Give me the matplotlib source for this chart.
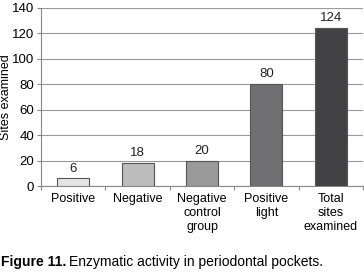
import matplotlib.pyplot as plt
import numpy as np

plt.rcParams["font.family"] = ["Liberation Sans", "DejaVu Sans"]

categories = ["Positive", "Negative", "Negative\ncontrol\ngroup", "Positive\nlight", "Total\nsites\nexamined"]
sites = [6, 18, 20, 80, 124]
bar_colors = ["#e4e4e4", "#bcbcbc", "#9a9a9a", "#6f6f72", "#424245"]

fig = plt.figure(figsize=(3.64, 2.74), dpi=100)
ax = fig.add_axes([0.113, 0.321, 0.884, 0.650])

x = np.arange(len(categories))
ax.bar(x, sites, width=0.5, color=bar_colors, edgecolor="#555555", linewidth=0.8, zorder=3)
for xi, v in zip(x, sites):
    ax.text(xi, v + 3, str(v), ha="center", va="bottom", fontsize=9.5, color="#222222")

ax.set_xlim(-0.5, len(categories) - 0.5)
ax.set_ylim(0, 140)
ax.set_yticks(range(0, 141, 20))
ax.yaxis.grid(True, color="#999999", linewidth=0.8, zorder=0)
ax.tick_params(axis="y", labelsize=9.5, length=3, color="#888888", pad=2)

ax.set_xticks(np.arange(-0.5, len(categories), 1.0))
ax.set_xticklabels([])
ax.set_xticks(x, minor=True)
ax.set_xticklabels(categories, minor=True, fontsize=9, linespacing=1.25)
ax.tick_params(axis="x", which="major", length=3, color="#888888")
ax.tick_params(axis="x", which="minor", length=0, pad=5)

for side in ["top", "right"]:
    ax.spines[side].set_visible(False)
ax.spines["left"].set_color("#888888")
ax.spines["bottom"].set_color("#888888")

# y label placed by hand so it stays inside the figure
fig.text(0.016, 0.646, "Sites examined", fontsize=9, rotation=90, ha="center", va="center")

bold = fig.text(0.003, 0.042, "Figure 11.", fontsize=10, fontweight="bold", ha="left", va="center")
fig.canvas.draw()
bb = bold.get_window_extent().transformed(fig.transFigure.inverted())
fig.text(bb.x1 + 0.008, 0.042, "Enzymatic activity in periodontal pockets.", fontsize=10, ha="left", va="center")

fig.savefig("out.png", dpi=100)
